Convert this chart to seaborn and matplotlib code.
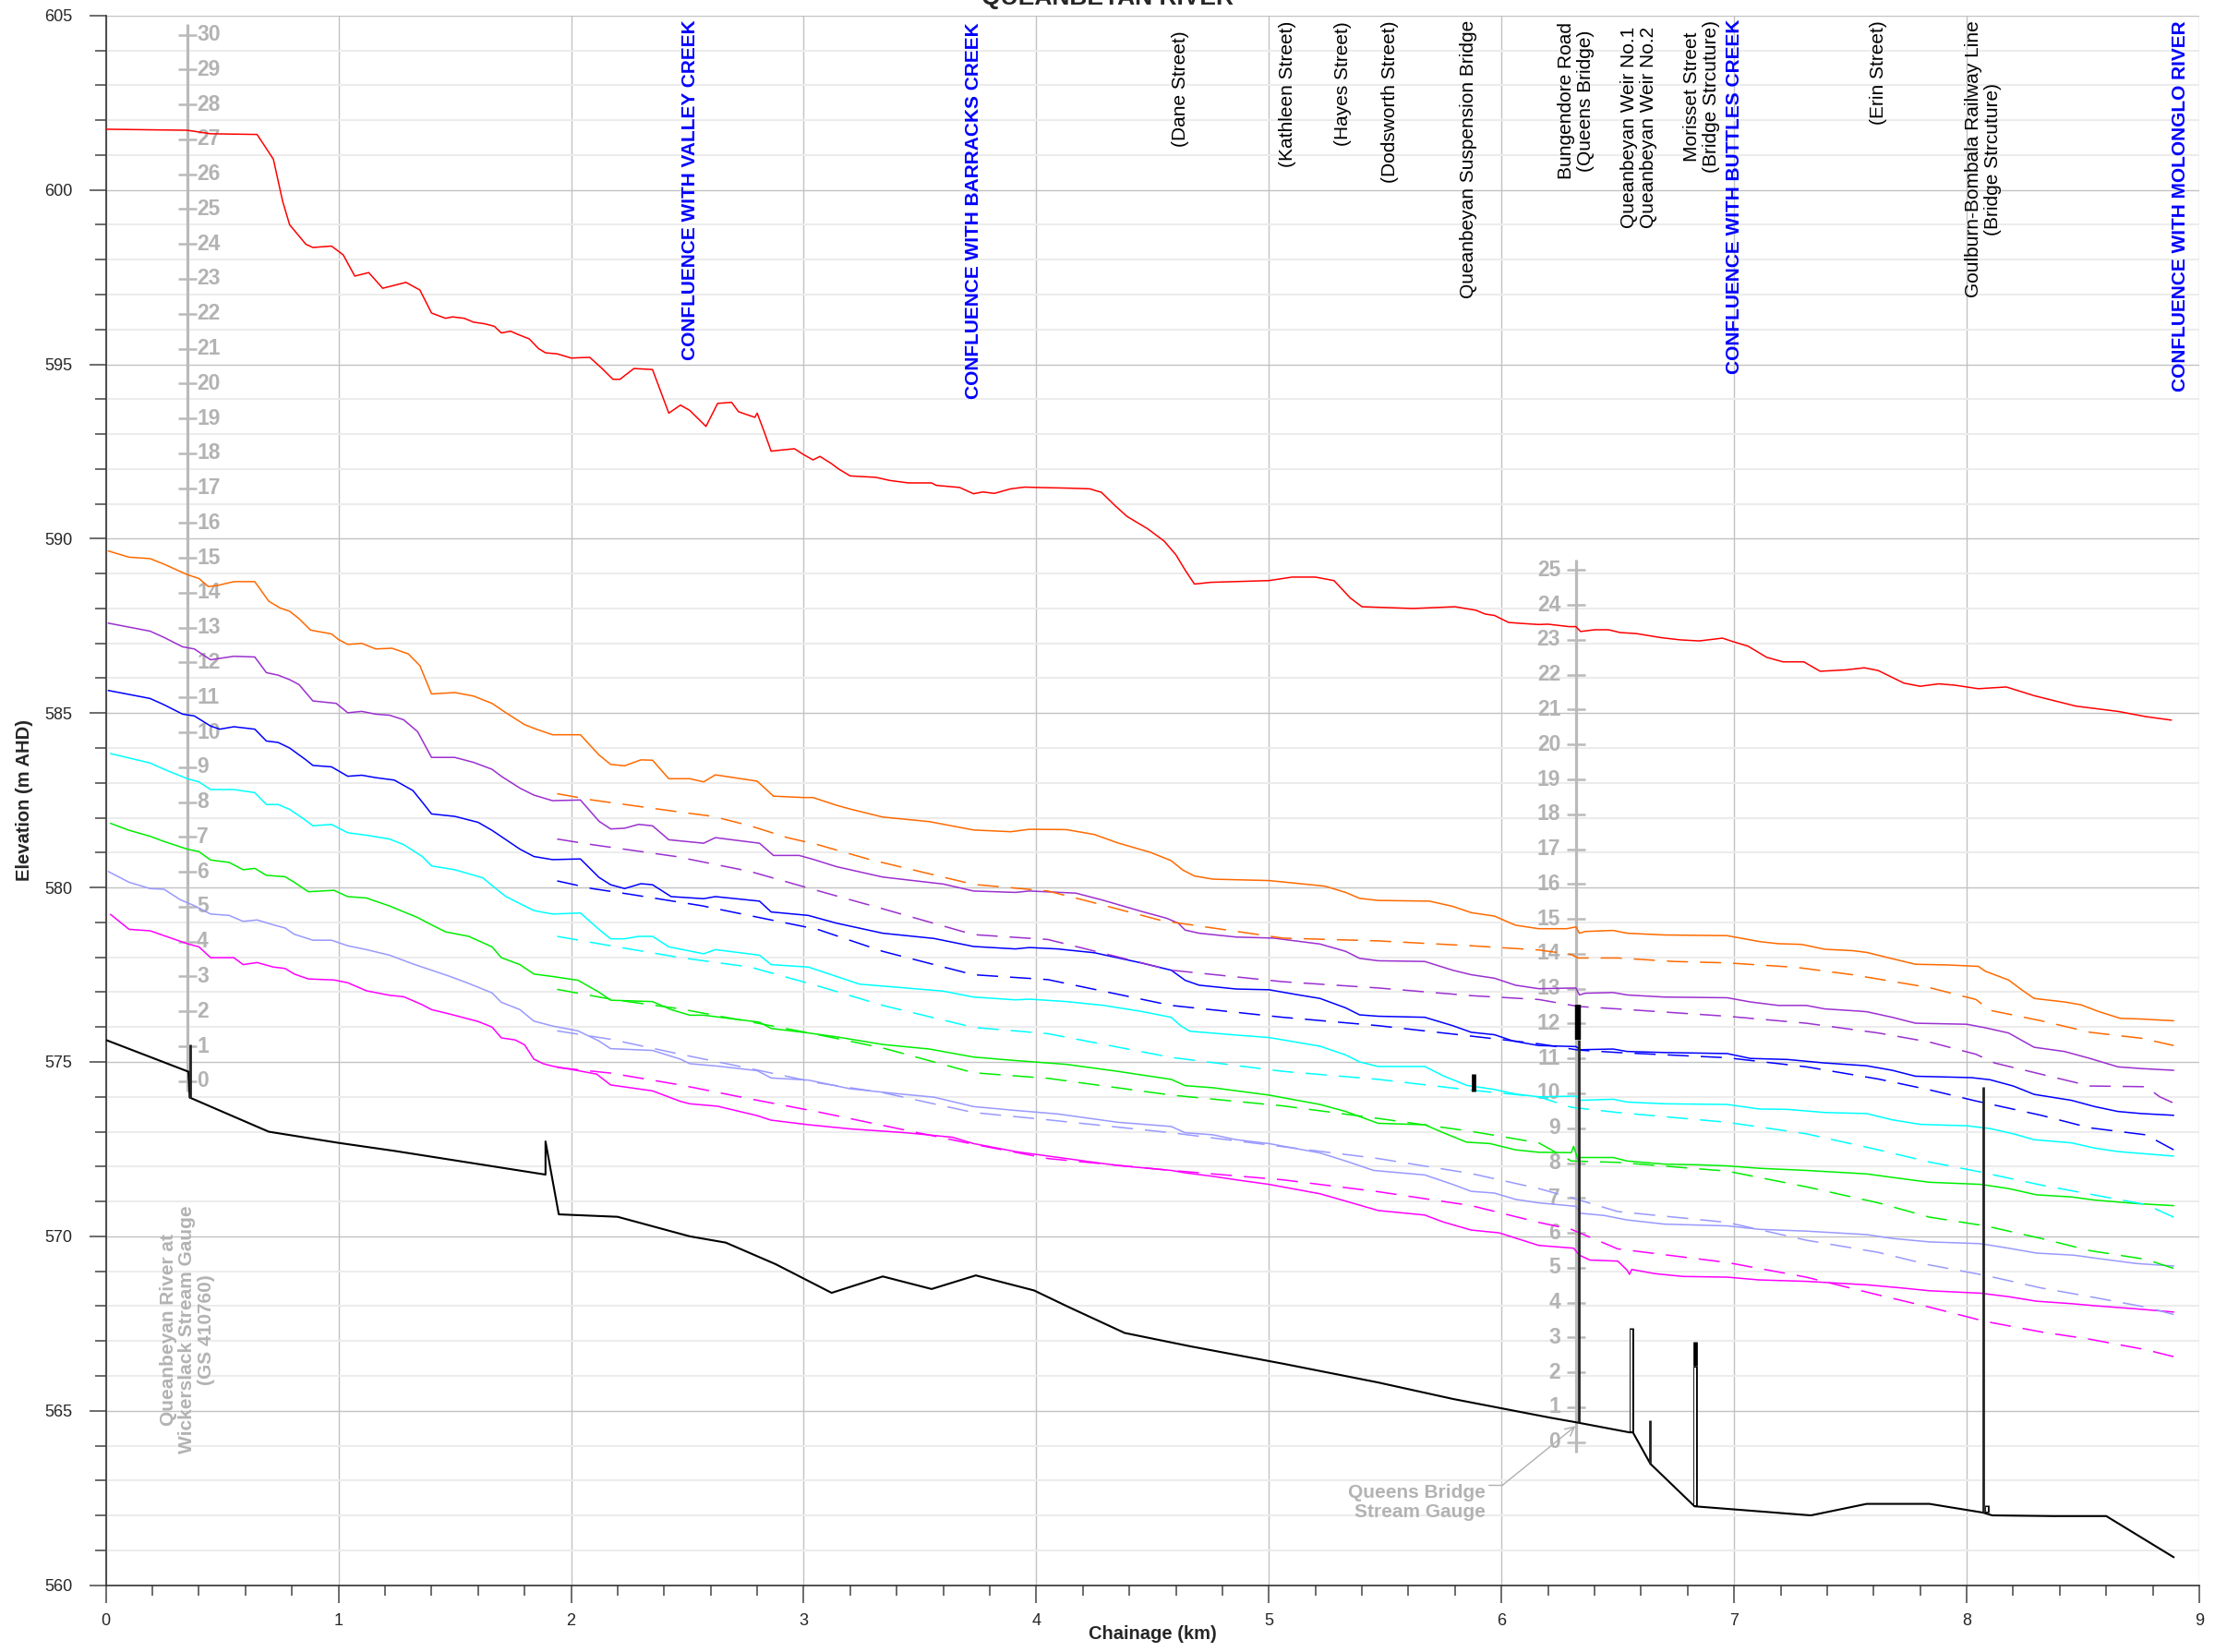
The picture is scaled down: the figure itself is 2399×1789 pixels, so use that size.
import matplotlib
matplotlib.use("Agg")
import matplotlib.pyplot as plt
import matplotlib.transforms as mtransforms
from matplotlib.ticker import MultipleLocator
import seaborn as sns

# ---------------------------------------------------------------------------
# Longitudinal water surface profiles, Queanbeyan River (chainage km, elevation m AHD)
# ---------------------------------------------------------------------------
red = [(0.00,601.74),(0.35,601.71),(0.45,601.61),(0.65,601.59),(0.72,600.88),(0.76,599.67),(0.79,599.00),
       (0.86,598.44),(0.89,598.35),(0.97,598.39),(1.02,598.14),(1.07,597.53),(1.13,597.63),(1.19,597.18),
       (1.29,597.35),(1.35,597.13),(1.40,596.47),(1.46,596.32),(1.49,596.36),(1.54,596.32),(1.58,596.21),
       (1.63,596.16),(1.67,596.09),(1.70,595.90),(1.74,595.95),(1.77,595.86),(1.82,595.73),(1.86,595.45),
       (1.89,595.33),(1.94,595.30),(2.00,595.18),(2.08,595.20),(2.13,594.90),(2.18,594.57),(2.21,594.57),
       (2.27,594.88),(2.35,594.85),(2.42,593.60),(2.47,593.83),(2.51,593.68),(2.58,593.22),(2.63,593.88),
       (2.69,593.91),(2.72,593.64),(2.79,593.48),(2.80,593.60),(2.83,593.07),(2.86,592.51),(2.90,592.54),
       (2.96,592.58),(3.00,592.41),(3.04,592.26),(3.07,592.36),(3.12,592.15),(3.15,592.00),(3.20,591.80),
       (3.31,591.76),(3.37,591.67),(3.45,591.60),(3.55,591.60),(3.57,591.53),(3.67,591.47),(3.73,591.29),
       (3.77,591.34),(3.82,591.30),(3.89,591.43),(3.95,591.48),(4.00,591.47),(4.14,591.45),(4.23,591.43),
       (4.28,591.33),(4.34,590.94),(4.39,590.64),(4.48,590.28),(4.55,589.93),(4.60,589.54),(4.64,589.10),
       (4.68,588.70),(4.75,588.75),(5.00,588.80),(5.10,588.90),(5.20,588.90),(5.28,588.80),(5.35,588.30),
       (5.40,588.05),(5.62,588.00),(5.80,588.05),(5.89,587.95),(5.93,587.84),(5.97,587.80),(6.03,587.60),
       (6.09,587.57),(6.16,587.54),(6.20,587.55),(6.29,587.48),(6.32,587.48),(6.34,587.34),(6.40,587.39),
       (6.46,587.39),(6.51,587.31),(6.58,587.28),(6.69,587.16),(6.77,587.10),(6.85,587.07),(6.95,587.15),
       (7.00,587.04),(7.06,586.92),(7.14,586.60),(7.21,586.47),(7.30,586.47),(7.37,586.20),(7.48,586.24),
       (7.56,586.30),(7.62,586.22),(7.73,585.86),(7.80,585.77),(7.88,585.84),(7.95,585.80),(8.05,585.70),
       (8.17,585.75),(8.29,585.50),(8.47,585.20),(8.65,585.05),(8.77,584.90),(8.88,584.80)]

orange = [(0.01,589.65),(0.10,589.47),(0.19,589.43),(0.25,589.27),(0.35,588.97),(0.40,588.86),(0.44,588.63),
          (0.48,588.66),(0.55,588.77),(0.64,588.77),(0.70,588.21),(0.75,588.01),(0.79,587.92),(0.83,587.71),
          (0.88,587.38),(0.97,587.27),(1.00,587.11),(1.04,586.97),(1.10,587.00),(1.16,586.84),(1.23,586.86),
          (1.30,586.70),(1.35,586.36),(1.40,585.55),(1.50,585.59),(1.58,585.49),(1.66,585.28),(1.72,585.01),
          (1.80,584.67),(1.85,584.54),(1.92,584.38),(2.04,584.38),(2.12,583.80),(2.17,583.53),(2.23,583.49),
          (2.30,583.66),(2.35,583.65),(2.42,583.12),(2.51,583.12),(2.57,583.03),(2.62,583.23),(2.80,583.05),
          (2.87,582.62),(3.00,582.58),(3.04,582.58),(3.14,582.36),(3.20,582.25),(3.34,582.02),(3.54,581.89),
          (3.73,581.65),(3.89,581.60),(3.97,581.67),(4.13,581.66),(4.25,581.52),(4.35,581.28),(4.49,581.01),
          (4.58,580.77),(4.63,580.50),(4.68,580.33),(4.76,580.24),(5.00,580.20),(5.24,580.04),(5.33,579.86),
          (5.39,579.69),(5.47,579.63),(5.69,579.61),(5.79,579.46),(5.87,579.28),(5.97,579.18),(6.06,578.92),
          (6.16,578.82),(6.28,578.82),(6.32,578.87),(6.335,578.69),(6.36,578.74),(6.48,578.77),(6.54,578.69),
          (6.70,578.64),(6.97,578.62),(7.11,578.45),(7.19,578.39),(7.29,578.37),(7.39,578.23),(7.51,578.19),
          (7.57,578.14),(7.68,577.96),(7.78,577.80),(7.92,577.78),(8.05,577.74),(8.08,577.60),(8.18,577.35),
          (8.24,577.05),(8.29,576.82),(8.42,576.72),(8.49,576.64),(8.57,576.44),(8.66,576.25),(8.75,576.23),
          (8.89,576.18)]

purple = [(0.01,587.58),(0.19,587.35),(0.25,587.17),(0.33,586.90),(0.38,586.84),(0.45,586.53),(0.55,586.63),
          (0.64,586.61),(0.69,586.16),(0.74,586.09),(0.79,585.96),(0.83,585.82),(0.89,585.35),(0.99,585.28),
          (1.04,585.01),(1.10,585.05),(1.16,584.97),(1.22,584.94),(1.28,584.81),(1.34,584.47),(1.40,583.73),
          (1.50,583.73),(1.58,583.59),(1.66,583.39),(1.70,583.19),(1.78,582.85),(1.84,582.65),(1.92,582.49),
          (2.04,582.51),(2.12,581.90),(2.17,581.68),(2.23,581.70),(2.29,581.81),(2.35,581.77),(2.42,581.37),
          (2.57,581.27),(2.62,581.43),(2.81,581.27),(2.87,580.92),(2.98,580.92),(3.04,580.81),(3.14,580.60),
          (3.34,580.30),(3.60,580.10),(3.73,579.90),(3.91,579.86),(3.97,579.90),(4.17,579.84),(4.29,579.63),
          (4.45,579.32),(4.56,579.12),(4.61,578.98),(4.64,578.78),(4.70,578.69),(4.86,578.58),(5.02,578.55),
          (5.22,578.38),(5.33,578.17),(5.39,577.97),(5.47,577.90),(5.67,577.88),(5.79,577.63),(5.87,577.50),
          (5.97,577.40),(6.06,577.20),(6.16,577.10),(6.32,577.12),(6.335,576.92),(6.36,576.97),(6.48,576.99),
          (6.54,576.92),(6.70,576.86),(6.97,576.84),(7.07,576.72),(7.19,576.62),(7.31,576.62),(7.39,576.52),
          (7.53,576.46),(7.57,576.44),(7.68,576.28),(7.78,576.11),(8.00,576.08),(8.08,575.98),(8.18,575.83),
          (8.29,575.42),(8.42,575.30),(8.53,575.10),(8.65,574.86),(8.75,574.81),(8.89,574.76)]

blue = [(0.01,585.65),(0.19,585.42),(0.25,585.24),(0.33,584.97),(0.38,584.92),(0.45,584.63),(0.49,584.54),
        (0.55,584.61),(0.64,584.54),(0.69,584.20),(0.74,584.16),(0.79,584.00),(0.86,583.66),(0.89,583.50),
        (0.97,583.46),(1.04,583.19),(1.10,583.22),(1.16,583.15),(1.24,583.08),(1.32,582.78),(1.36,582.45),
        (1.40,582.11),(1.50,582.04),(1.60,581.87),(1.66,581.64),(1.72,581.37),(1.78,581.10),(1.84,580.89),
        (1.92,580.80),(2.04,580.82),(2.12,580.29),(2.17,580.08),(2.23,579.97),(2.30,580.11),(2.35,580.08),
        (2.43,579.74),(2.57,579.68),(2.62,579.74),(2.81,579.61),(2.86,579.30),(3.02,579.20),(3.14,578.98),
        (3.34,578.69),(3.56,578.54),(3.73,578.31),(3.91,578.24),(3.97,578.28),(4.09,578.24),(4.25,578.13),
        (4.45,577.84),(4.58,577.63),(4.64,577.34),(4.70,577.20),(4.86,577.09),(5.00,577.07),(5.12,576.93),
        (5.22,576.82),(5.33,576.55),(5.39,576.35),(5.47,576.31),(5.67,576.28),(5.79,576.04),(5.87,575.85),
        (5.97,575.78),(6.05,575.60),(6.16,575.47),(6.32,575.44),(6.34,575.35),(6.48,575.37),(6.54,575.30),
        (6.70,575.27),(6.97,575.24),(7.07,575.10),(7.23,575.07),(7.39,574.97),(7.57,574.89),(7.68,574.76),
        (7.78,574.59),(8.02,574.55),(8.10,574.49),(8.20,574.31),(8.29,574.07),(8.45,573.90),(8.55,573.72),
        (8.65,573.58),(8.75,573.52),(8.89,573.47)]

cyan = [(0.02,583.84),(0.19,583.57),(0.25,583.39),(0.35,583.12),(0.40,583.03),(0.45,582.81),(0.55,582.81),
        (0.64,582.72),(0.69,582.38),(0.74,582.38),(0.79,582.24),(0.85,581.97),(0.89,581.77),(0.97,581.81),
        (1.04,581.57),(1.12,581.50),(1.22,581.39),(1.28,581.23),(1.36,580.89),(1.40,580.62),(1.50,580.51),
        (1.62,580.28),(1.68,579.95),(1.72,579.74),(1.78,579.54),(1.84,579.34),(1.92,579.24),(2.04,579.27),
        (2.12,578.80),(2.17,578.53),(2.23,578.53),(2.29,578.60),(2.35,578.60),(2.42,578.30),(2.57,578.10),
        (2.62,578.22),(2.81,578.06),(2.86,577.79),(3.02,577.72),(3.24,577.23),(3.44,577.12),(3.60,577.03),
        (3.73,576.86),(3.91,576.78),(3.97,576.80),(4.13,576.73),(4.29,576.62),(4.45,576.45),(4.58,576.28),
        (4.62,576.04),(4.66,575.88),(4.86,575.77),(5.00,575.70),(5.22,575.45),(5.33,575.20),(5.39,575.00),
        (5.47,574.87),(5.67,574.87),(5.75,574.60),(5.85,574.33),(5.97,574.21),(6.06,574.08),(6.16,574.00),
        (6.32,574.02),(6.34,573.90),(6.48,573.93),(6.54,573.85),(6.70,573.80),(6.97,573.78),(7.11,573.65),
        (7.23,573.64),(7.39,573.55),(7.57,573.52),(7.68,573.34),(7.80,573.21),(8.00,573.17),(8.10,573.09),
        (8.20,572.94),(8.29,572.77),(8.45,572.68),(8.55,572.53),(8.65,572.43),(8.89,572.30)]

green = [(0.02,581.84),(0.10,581.64),(0.19,581.47),(0.25,581.32),(0.35,581.10),(0.40,581.03),(0.45,580.79),
         (0.53,580.72),(0.59,580.51),(0.64,580.55),(0.69,580.35),(0.77,580.31),(0.81,580.15),(0.87,579.88),
         (0.98,579.92),(1.04,579.74),(1.12,579.70),(1.22,579.47),(1.34,579.14),(1.40,578.93),(1.46,578.73),
         (1.56,578.60),(1.66,578.30),(1.70,577.99),(1.78,577.79),(1.84,577.52),(1.92,577.45),(2.03,577.34),
         (2.12,577.00),(2.17,576.77),(2.35,576.73),(2.43,576.50),(2.51,576.34),(2.57,576.34),(2.70,576.23),
         (2.81,576.14),(2.86,575.96),(3.02,575.83),(3.14,575.72),(3.34,575.50),(3.54,575.37),(3.73,575.14),
         (3.91,575.04),(4.13,574.93),(4.35,574.73),(4.58,574.50),(4.64,574.32),(4.76,574.26),(5.00,574.05),
         (5.22,573.78),(5.33,573.58),(5.47,573.24),(5.67,573.20),(5.75,572.97),(5.85,572.70),(5.95,572.66),
         (6.06,572.48),(6.16,572.41),(6.30,572.40),(6.31,572.58),(6.33,572.18),(6.34,572.26),(6.48,572.26),
         (6.54,572.16),(6.70,572.07),(6.85,572.05),(6.97,572.02),(7.11,571.95),(7.31,571.89),(7.57,571.79),
         (7.68,571.69),(7.84,571.55),(8.06,571.49),(8.18,571.37),(8.30,571.19),(8.45,571.13),(8.55,571.04),
         (8.73,570.94),(8.89,570.88)]

lavender = [(0.01,580.46),(0.10,580.15),(0.19,579.97),(0.25,579.95),(0.32,579.65),(0.38,579.48),(0.45,579.24),
            (0.53,579.20),(0.59,579.03),(0.65,579.07),(0.72,578.93),(0.77,578.84),(0.81,578.66),(0.89,578.49),
            (0.97,578.49),(1.04,578.33),(1.12,578.22),(1.22,578.06),(1.32,577.81),(1.40,577.63),(1.48,577.45),
            (1.56,577.25),(1.66,576.98),(1.70,576.71),(1.78,576.50),(1.84,576.17),(1.92,576.03),(2.03,575.89),
            (2.12,575.60),(2.17,575.38),(2.35,575.33),(2.47,575.08),(2.51,574.95),(2.63,574.88),(2.80,574.75),
            (2.86,574.54),(3.02,574.48),(3.20,574.23),(3.40,574.09),(3.56,573.99),(3.73,573.72),(3.91,573.61),
            (4.09,573.51),(4.35,573.27),(4.58,573.15),(4.64,572.97),(4.76,572.91),(4.86,572.77),(5.00,572.66),
            (5.22,572.39),(5.33,572.16),(5.45,571.89),(5.67,571.76),(5.79,571.49),(5.87,571.29),(5.97,571.24),
            (6.06,571.06),(6.16,570.96),(6.32,570.86),(6.34,570.66),(6.44,570.60),(6.54,570.47),(6.70,570.35),
            (6.97,570.30),(7.11,570.20),(7.31,570.15),(7.57,570.05),(7.68,569.94),(7.84,569.84),(8.06,569.79),
            (8.18,569.66),(8.30,569.52),(8.46,569.46),(8.57,569.36),(8.73,569.22),(8.89,569.15)]

magenta = [(0.02,579.23),(0.10,578.80),(0.19,578.76),(0.25,578.62),(0.35,578.39),(0.40,578.30),(0.45,577.99),
           (0.55,577.99),(0.59,577.79),(0.65,577.85),(0.72,577.72),(0.77,577.68),(0.81,577.52),(0.87,577.38),
           (0.98,577.35),(1.04,577.27),(1.12,577.04),(1.22,576.91),(1.28,576.87),(1.36,576.64),(1.40,576.50),
           (1.48,576.37),(1.60,576.16),(1.66,576.00),(1.70,575.69),(1.76,575.63),(1.80,575.49),(1.84,575.08),
           (1.88,574.95),(1.92,574.88),(2.03,574.75),(2.11,574.65),(2.17,574.34),(2.35,574.17),(2.47,573.87),
           (2.51,573.80),(2.63,573.73),(2.80,573.46),(2.86,573.33),(3.02,573.20),(3.20,573.08),(3.44,572.97),
           (3.64,572.84),(3.73,572.66),(3.91,572.43),(4.13,572.23),(4.35,572.03),(4.58,571.89),(4.64,571.82),
           (4.76,571.72),(4.86,571.62),(5.00,571.49),(5.22,571.22),(5.33,571.01),(5.47,570.74),(5.67,570.61),
           (5.75,570.41),(5.87,570.18),(5.99,570.10),(6.07,569.93),(6.16,569.74),(6.31,569.66),(6.335,569.46),
           (6.38,569.32),(6.50,569.29),(6.54,569.03),(6.55,568.91),(6.56,569.05),(6.66,568.93),(6.78,568.85),
           (6.97,568.83),(7.11,568.75),(7.31,568.71),(7.57,568.61),(7.72,568.52),(7.84,568.44),(8.06,568.37),
           (8.18,568.27),(8.30,568.14),(8.45,568.07),(8.57,568.00),(8.73,567.92),(8.89,567.83)]

# Comparison profiles (dashed), downstream of chainage 1.94 km
orange_d = [(1.94,582.69),(2.09,582.51),(2.45,582.18),(2.61,582.04),(2.77,581.77),(2.93,581.43),(3.06,581.23),
            (3.28,580.81),(3.73,580.09),(4.05,579.90),(4.21,579.63),(4.54,579.05),(4.78,578.82),(5.06,578.55),
            (5.47,578.47),(5.87,578.33),(6.16,578.21),(6.30,578.08),(6.33,577.98),(6.50,577.98),(6.74,577.88),
            (6.97,577.84),(7.27,577.71),(7.51,577.50),(7.84,577.13),(8.04,576.79),(8.10,576.48),(8.32,576.18),
            (8.53,575.85),(8.75,575.68),(8.89,575.47)]
purple_d = [(1.94,581.39),(2.09,581.23),(2.45,580.89),(2.77,580.46),(3.06,579.91),(3.34,579.39),(3.73,578.65),
            (4.05,578.51),(4.58,577.63),(5.06,577.30),(5.47,577.12),(5.87,576.90),(6.16,576.79),(6.33,576.59),
            (6.50,576.52),(6.97,576.31),(7.31,576.11),(7.62,575.83),(7.84,575.57),(8.04,575.22),(8.12,574.97),
            (8.53,574.31),(8.77,574.29),(8.83,574.00),(8.89,573.82)]
blue_d = [(1.94,580.19),(2.09,579.97),(2.25,579.81),(2.56,579.48),(2.86,579.07),(3.06,578.80),(3.34,578.17),
          (3.73,577.50),(4.05,577.36),(4.58,576.62),(5.06,576.28),(5.47,576.04),(5.87,575.74),(6.16,575.52),
          (6.33,575.34),(6.50,575.27),(6.97,575.12),(7.31,574.86),(7.62,574.51),(7.84,574.20),(8.04,573.88),
          (8.32,573.47),(8.53,573.11),(8.77,572.91),(8.89,572.48)]
cyan_d = [(1.94,578.60),(2.17,578.33),(2.47,577.99),(2.77,577.72),(3.06,577.18),(3.34,576.62),(3.73,575.99),
          (4.05,575.81),(4.58,575.13),(5.06,574.73),(5.47,574.50),(5.87,574.19),(6.16,574.00),(6.30,573.70),
          (6.50,573.55),(6.97,573.27),(7.31,572.94),(7.62,572.48),(7.84,572.13),(8.04,571.87),(8.32,571.47),
          (8.53,571.21),(8.77,570.91),(8.89,570.55)]
green_d = [(1.94,577.08),(2.17,576.80),(2.47,576.52),(2.77,576.15),(3.04,575.81),(3.34,575.40),(3.73,574.69),
           (4.05,574.53),(4.58,574.05),(5.06,573.74),(5.47,573.38),(5.87,573.01),(6.16,572.68),(6.30,572.16),
           (6.50,572.12),(6.97,571.87),(7.31,571.42),(7.62,570.96),(7.84,570.55),(8.08,570.30),(8.32,569.94),
           (8.53,569.59),(8.77,569.34),(8.89,569.08)]
lavender_d = [(1.94,575.89),(2.17,575.65),(2.47,575.22),(2.77,574.81),(3.06,574.40),(3.34,574.12),(3.73,573.55),
              (4.05,573.34),(4.58,572.97),(5.06,572.57),(5.47,572.23),(5.87,571.80),(6.16,571.37),(6.30,571.11),
              (6.50,570.71),(6.97,570.40),(7.31,569.89),(7.62,569.54),(7.84,569.18),(8.08,568.88),(8.32,568.52),
              (8.53,568.27),(8.77,567.97),(8.89,567.76)]
magenta_d = [(1.94,574.84),(2.17,574.68),(2.47,574.34),(2.77,573.94),(3.06,573.57),(3.34,573.18),(3.73,572.64),
             (4.05,572.23),(4.58,571.89),(5.06,571.62),(5.47,571.28),(5.87,570.88),(6.16,570.40),(6.30,570.20),
             (6.50,569.64),(6.97,569.25),(7.31,568.83),(7.62,568.32),(7.84,567.97),(8.08,567.56),(8.32,567.26),
             (8.53,567.05),(8.77,566.75),(8.89,566.55)]

# Channel invert (bed) profile
bed = [(0.00,575.63),(0.355,574.72),(0.36,573.98),(0.70,573.00),(1.00,572.68),(1.24,572.45),(1.89,571.77),
       (1.89,572.72),(1.947,570.63),(2.20,570.56),(2.51,570.00),(2.665,569.82),(2.88,569.20),(3.12,568.38),
       (3.34,568.85),(3.55,568.49),(3.74,568.88),(3.99,568.45),(4.14,567.97),(4.38,567.23),(4.66,566.85),
       (5.06,566.35),(5.47,565.81),(5.79,565.34),(6.21,564.80),(6.32,564.67),(6.55,564.38),(6.565,564.38),
       (6.64,563.48),(6.83,562.26),(7.33,562.00),(7.57,562.33),(7.84,562.33),(8.07,562.08),(8.11,562.00),
       (8.37,561.98),(8.60,561.98),(8.89,560.80)]

# Hydraulic structures: (chainage, base level, top level)
posts = [(0.362,573.98,575.49),(6.332,564.67,575.64),(6.64,563.48,564.73),(8.07,562.08,574.29)]
decks = [(5.88,574.15,574.66),(6.33,575.64,576.63),(6.832,566.30,566.97)]
hollow = [(6.557,564.38,567.38),(6.832,562.26,566.30),(8.088,562.08,562.30)]

# Stream gauges: chainage, gauge zero (m AHD), number of 1 m graduations
wick_gauge = (0.349, 574.45, 30)
queens_gauge = (6.32, 564.10, 25)

# Feature labels along the top of the profile
feat_km = [2.51, 3.73, 4.62, 5.08, 5.32, 5.52, 5.86, 6.32, 6.59, 6.86, 7.00, 7.62, 8.07, 8.92]
feat_text = ["CONFLUENCE WITH VALLEY CREEK", "CONFLUENCE WITH BARRACKS CREEK", "(Dane Street)",
             "(Kathleen Street)", "(Hayes Street)", "(Dodsworth Street)", "Queanbeyan Suspension Bridge",
             "Bungendore Road\n(Queens Bridge)", "Queanbeyan Weir No.1\nQueanbeyan Weir No.2",
             "Morisset Street\n(Bridge Strcuture)", "CONFLUENCE WITH BUTTLES CREEK", "(Erin Street)",
             "Goulburn-Bombala Railway Line\n(Bridge Strcuture)", "CONFLUENCE WITH MOLONGLO RIVER"]
feat_confluence = [True, True, False, False, False, False, False, False, False, False, True, False, False, True]
feat_top = [0.9975, 0.9953, 0.990, 0.9968, 0.9962, 0.9968, 0.9968, 0.9957, 0.993, 0.9968, 0.9975,
            0.9968, 0.9968, 0.9968]

profiles = [
    (red, "#ff0000", "solid"), (orange, "#ff6a00", "solid"), (purple, "#9b30d0", "solid"),
    (blue, "#0000ff", "solid"), (cyan, "#00ffff", "solid"), (green, "#00ee00", "solid"),
    (lavender, "#9999ff", "solid"), (magenta, "#ff00ff", "solid"),
    (orange_d, "#ff6a00", "dashed"), (purple_d, "#9b30d0", "dashed"), (blue_d, "#0000ff", "dashed"),
    (cyan_d, "#00ffff", "dashed"), (green_d, "#00ee00", "dashed"), (lavender_d, "#9999ff", "dashed"),
    (magenta_d, "#ff00ff", "dashed"),
]

# ---------------------------------------------------------------------------
sns.set_style("white")
plt.rcParams["font.family"] = ["Liberation Sans", "DejaVu Sans"]

W, H = 2399, 1789
fig = plt.figure(figsize=(W / 100, H / 100), dpi=100)
ax = fig.add_axes([0.04781, 0.04047, 0.94510, 0.95014])
ax.set_xlim(0, 9)
ax.set_ylim(560, 605)

ax.xaxis.set_major_locator(MultipleLocator(1))
ax.xaxis.set_minor_locator(MultipleLocator(0.2))
ax.yaxis.set_major_locator(MultipleLocator(5))
ax.yaxis.set_minor_locator(MultipleLocator(1))
ax.set_axisbelow(True)
ax.grid(which="minor", axis="y", color="#ececec", lw=1.5)
ax.grid(which="major", axis="both", color="#c2c2c2", lw=1.0)
ax.grid(which="minor", axis="x", visible=False)

for side in ("top", "right"):
    ax.spines[side].set_visible(False)
for side in ("left", "bottom"):
    ax.spines[side].set_color("#333333")
    ax.spines[side].set_linewidth(1.2)

ax.tick_params(axis="y", which="major", direction="out", length=13, width=1.1, color="#444444",
               pad=13, labelsize=13, left=True)
ax.tick_params(axis="y", which="minor", direction="out", length=8.5, width=1.1, color="#444444", left=True)
ax.tick_params(axis="x", which="major", direction="out", length=13.5, width=1.1, color="#444444",
               pad=8.5, labelsize=13, bottom=True)
ax.tick_params(axis="x", which="minor", direction="out", length=8, width=1.1, color="#444444", bottom=True)

ax.set_xlabel("Chainage (km)", fontsize=14.5, fontweight="bold")
ax.set_ylabel("Elevation (m AHD)", fontsize=14.5, fontweight="bold")
ax.xaxis.set_label_coords(0.5, -0.0255)
ax.yaxis.set_label_coords(-0.0345, 0.5)

# Water surface profiles
dash_pattern = (0, (15, 8.5))
for pts, colour, kind in profiles:
    km, el = zip(*pts)
    sns.lineplot(x=list(km), y=list(el), ax=ax, color=colour, lw=1.1, sort=False, estimator=None,
                 linestyle="-" if kind == "solid" else dash_pattern, zorder=3)

# Bed
bkm, bel = zip(*bed)
sns.lineplot(x=list(bkm), y=list(bel), ax=ax, color="black", lw=1.5, sort=False, estimator=None, zorder=4)

# Structures
for km, lo, hi in posts:
    ax.vlines(km, lo, hi, color="#222222", lw=2.0, zorder=5)
for km, lo, hi in hollow:
    ax.vlines(km, lo, hi, color="black", lw=3.4, zorder=5)
    ax.vlines(km, lo + 0.02, hi - 0.06, color="white", lw=1.4, zorder=6)
for km, lo, hi in decks:
    ax.vlines(km, lo, hi, color="black", lw=4.6 if km == 6.33 else 3.4, zorder=6)

# Stream gauge staffs
gauge_col = "#bababa"
label_col = "#b3b3b3"
for (gkm, gzero, n), side in ((wick_gauge, 1), (queens_gauge, -1)):
    levels = [gzero + i for i in range(n + 1)]
    ax.vlines(gkm, gzero - 0.3, gzero + n + 0.3, color=gauge_col, lw=2.3, zorder=2.5)
    ax.plot([gkm] * len(levels), levels, ls="none", marker="_", ms=14, mew=1.8, color=gauge_col, zorder=2.6)
    trans = mtransforms.offset_copy(ax.transData, fig=fig, x=7.5 if side > 0 else -12.0,
                                    y=0, units="points")
    for i, lev in enumerate(levels):
        ax.text(gkm, lev, str(i), transform=trans, ha="left" if side > 0 else "right", va="center",
                fontsize=16.5, fontweight="bold", color=label_col, zorder=2.7)

ax.text(0.35, 567.32, "Queanbeyan River at\nWickerslack Stream Gauge\n(GS 410760)", rotation=90,
        ha="center", va="center", multialignment="center", fontsize=15, fontweight="bold",
        color=label_col, linespacing=1.1)

ax.text(5.93, 562.37, "Queens Bridge\nStream Gauge", ha="right", va="center", multialignment="right",
        fontsize=15, fontweight="bold", color=label_col, linespacing=1.1)
ax.plot([5.945, 6.005], [562.87, 562.87], color="#b0b0b0", lw=1.0)
ax.annotate("", xy=(6.318, 564.56), xytext=(6.005, 562.87),
            arrowprops=dict(arrowstyle="->,head_length=0.7,head_width=0.35", color="#b0b0b0", lw=1.0,
                            shrinkA=0, shrinkB=0))

# Feature labels
top_trans = mtransforms.blended_transform_factory(ax.transData, ax.transAxes)
for km, txt, conf, top in zip(feat_km, feat_text, feat_confluence, feat_top):
    ax.text(km, top, txt, transform=top_trans, rotation=90, ha="center", va="top",
            multialignment="center", fontsize=15, linespacing=1.15,
            color="#0000ff" if conf else "black", fontweight="bold" if conf else "normal", zorder=7)

fig.text(0.5, 1 - 4.6 / H, "QUEANBEYAN RIVER", ha="center", va="baseline", fontsize=19, fontweight="bold")

fig.savefig("out.png", dpi=100)
